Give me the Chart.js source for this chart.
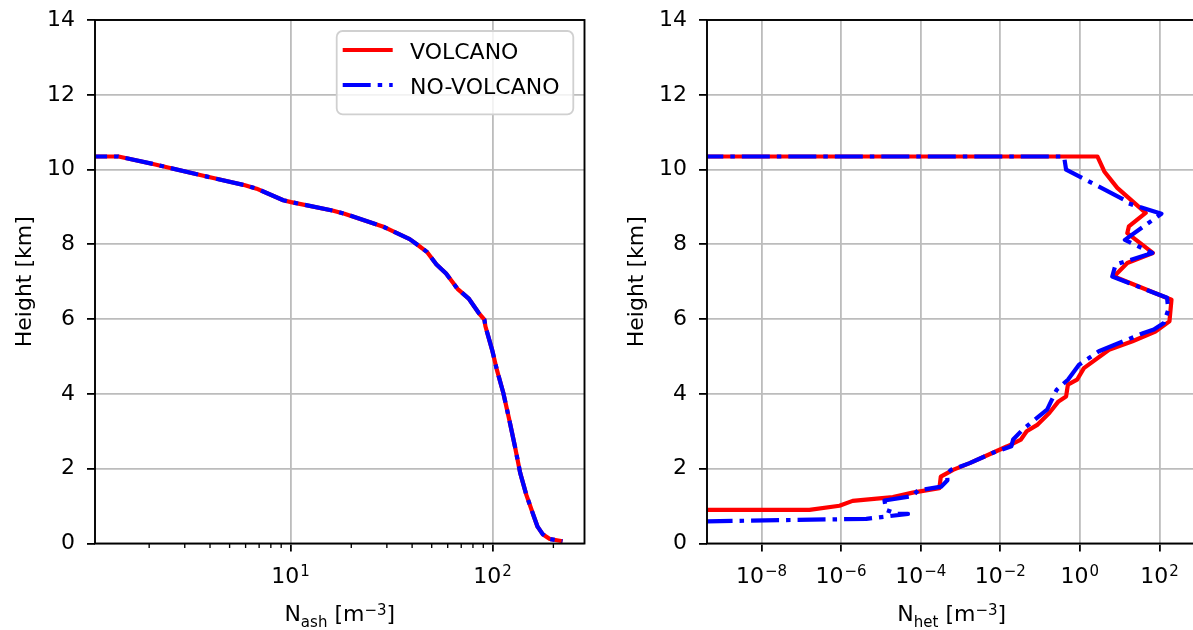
<!DOCTYPE html>
<html>
<head>
<meta charset="utf-8">
<script src="https://cdn.jsdelivr.net/npm/chart.js@4.4.1/dist/chart.umd.min.js"></script>
<style>
html, body { margin: 0; padding: 0; background: #fff; overflow: hidden; width: 1193px; height: 630px; }
canvas { position: absolute; top: 0; }
#chartAsh { left: 0; }
#chartHet { left: 612px; }
</style>
</head>
<body>
<canvas id="chartAsh" width="600" height="630"></canvas>
<canvas id="chartHet" width="600" height="630"></canvas>
<script>
// ---- data (height in km, concentration in m^-3) ----
const HEIGHT_MIN = 0, HEIGHT_MAX = 14, HEIGHT_STEP = 2;

const ashHeight = [10.35, 10.35, 10.15, 9.86, 9.58, 9.49, 9.18, 9.13, 8.90, 8.82,
                   8.48, 8.14, 7.99, 7.80, 7.46, 7.22, 6.81, 6.54, 6.17, 5.99,
                   5.81, 5.18, 4.65, 4.03, 3.31, 2.60, 1.89, 1.30, 0.73, 0.45,
                   0.25, 0.12, 0.06];
const ashVolcano = [0.9, 1.41, 2.09, 3.53, 5.96, 6.8, 9.22, 10.07, 16.3, 18.5,
                    28.6, 38.9, 42.5, 47.3, 52.8, 58.9, 67.1, 76.5, 85.3, 91.1,
                    92.2, 99.5, 105, 113, 121, 129, 137, 147, 160, 167,
                    177, 192, 222];
const ashNoVolcano = [0.9, 1.41, 2.09, 3.53, 5.96, 6.8, 9.22, 10.07, 16.3, 18.5,
                      28.6, 38.9, 42.5, 47.3, 52.8, 58.9, 67.1, 76.5, 85.3, 91.1,
                      92.2, 99.5, 105, 113, 121, 129, 137, 147, 160, 167,
                      177, 192, 222];
const ashRange = [1.079, 285.1];
const ashTicks = [10, 100];
const ashMinorTicks = [2, 3, 4, 5, 6, 7, 8, 9, 20, 30, 40, 50, 60, 70, 80, 90, 200];

const hetHeightVolcano = [10.35, 10.35, 9.95, 9.51, 8.84, 8.48, 8.30, 7.77, 7.50, 7.14,
                          6.52, 5.94, 5.67, 5.41, 5.18, 4.69, 4.38, 4.25, 3.93, 3.80,
                          3.49, 3.18, 3.00, 2.78, 2.60, 2.42, 2.15, 1.97, 1.79, 1.48,
                          1.36, 1.24, 1.14, 1.01, 0.90, 0.90];
const hetVolcano = [1e-12, 2.75, 4.1, 8.7, 45, 17, 15.5, 68, 15.5, 7.2,
                    200, 178, 79, 21, 5.4, 1.26, 0.85, 0.5, 0.45, 0.29,
                    0.17, 0.087, 0.046, 0.033, 0.015, 0.0063, 0.0017, 6.5e-4, 3.2e-4, 2.95e-4,
                    6.3e-5, 2.0e-5, 1.95e-6, 9.1e-7, 1.6e-7, 1e-12];
const hetHeightNoVolcano = [10.35, 10.35, 10.00, 9.19, 9.10, 8.82, 8.12, 7.77, 7.46, 7.14,
                            6.57, 6.25, 5.90, 5.72, 5.63, 5.14, 4.78, 4.38, 4.11, 3.58,
                            3.04, 2.78, 2.60, 2.42, 2.15, 1.97, 1.87, 1.69, 1.52, 1.42,
                            1.27, 1.15, 0.90, 0.79, 0.79, 0.70, 0.66, 0.59];
const hetNoVolcano = [1e-12, 0.4, 0.45, 12.9, 16, 112, 13.5, 66, 7.9, 6.5,
                      155, 166, 129, 72, 40, 3.0, 0.95, 0.5, 0.26, 0.15,
                      0.036, 0.021, 0.019, 0.0063, 0.0017, 5.8e-4, 4.6e-4, 4.7e-4, 3.3e-4, 8.5e-5,
                      6.3e-5, 1.23e-5, 1.35e-5, 2.6e-5, 4.8e-5, 9e-6, 4.3e-6, 3e-10];
const hetRange = [4.27e-10, 851];
const hetTicks = [1e-8, 1e-6, 1e-4, 1e-2, 1, 100];

const SERIES_NAMES = ['VOLCANO', 'NO-VOLCANO'];

// ---- styling ----
const FONT = "'DejaVu Sans', sans-serif";
const GRID = '#bcbcbc';
const RED = '#ff0000', BLUE = '#0000ff';
const LW = 4.2;
const DASHDOT = [28, 7, 4.5, 7];

function toPoints(xs, ys) {
    return xs.map((x, i) => ({ x: x, y: ys[i] }));
}

function drawPow(ctx, exp, cx, baseline) {
    const expTxt = exp < 0 ? '\u2212' + (-exp) : String(exp);
    ctx.font = '22px ' + FONT;
    const wb = ctx.measureText('10').width;
    ctx.font = '15px ' + FONT;
    const we = ctx.measureText(expTxt).width;
    const x0 = cx - (wb + we + 1) / 2;
    ctx.textAlign = 'left';
    ctx.font = '22px ' + FONT;
    ctx.fillText('10', x0, baseline);
    ctx.font = '15px ' + FONT;
    ctx.fillText(expTxt, x0 + wb + 1, baseline - 7.6);
}

// 组合文字: N_sub [m^-3]
function drawUnitTitle(ctx, sub, cx, baseline) {
    const parts = [
        { t: 'N', s: 22, dy: 0 },
        { t: sub, s: 15, dy: 5.7 },
        { t: ' [m', s: 22, dy: 0 },
        { t: '\u22123', s: 15, dy: -6.2 },
        { t: ']', s: 22, dy: 0 }
    ];
    let total = 0;
    parts.forEach(p => { ctx.font = p.s + 'px ' + FONT; p.w = ctx.measureText(p.t).width; total += p.w; });
    let x = cx - total / 2;
    ctx.textAlign = 'left';
    parts.forEach(p => {
        ctx.font = p.s + 'px ' + FONT;
        ctx.fillText(p.t, x, baseline + p.dy);
        x += p.w;
    });
}

const mplPlugin = {
    id: 'mpl',
    afterDraw(chart, args, opts) {
        const ctx = chart.ctx;
        const a = chart.chartArea;
        const xs = chart.scales.x;
        ctx.save();
        ctx.fillStyle = '#000';
        ctx.strokeStyle = '#000';

        // minor ticks
        if (opts.minor) {
            ctx.lineWidth = 1.35;
            opts.minor.forEach(v => {
                const px = xs.getPixelForValue(v);
                if (px < a.left || px > a.right) return;
                ctx.beginPath();
                ctx.moveTo(px, a.bottom);
                ctx.lineTo(px, a.bottom + 4.5);
                ctx.stroke();
            });
        }

        // axes box
        ctx.lineWidth = 1.9;
        ctx.strokeRect(a.left, a.top, a.right - a.left, a.bottom - a.top);

        // x tick labels 10^n
        ctx.textBaseline = 'alphabetic';
        xs.ticks.forEach(t => {
            drawPow(ctx, Math.round(Math.log10(t.value)), xs.getPixelForValue(t.value), a.bottom + 39.8);
        });

        // x title
        drawUnitTitle(ctx, opts.sub, (a.left + a.right) / 2, a.bottom + 77.5);

        // y title
        ctx.save();
        ctx.translate(30.7, (a.top + a.bottom) / 2);
        ctx.rotate(-Math.PI / 2);
        ctx.textAlign = 'center';
        ctx.font = '22px ' + FONT;
        ctx.fillText('Height [km]', 0, 0);
        ctx.restore();

        // legend
        if (opts.legend) {
            const w = 236.6, h = 83.3;
            const lx = a.right - 11.2 - w, ly = a.top + 11;
            ctx.beginPath();
            ctx.roundRect(lx, ly, w, h, 6);
            ctx.fillStyle = 'rgba(255,255,255,0.8)';
            ctx.fill();
            ctx.strokeStyle = '#d0d0d0';
            ctx.lineWidth = 1.8;
            ctx.stroke();
            chart.data.datasets.forEach((ds, i) => {
                const yy = ly + 19 + i * 35;
                ctx.beginPath();
                ctx.strokeStyle = ds.borderColor;
                ctx.lineWidth = LW;
                ctx.setLineDash(ds.borderDash || []);
                ctx.moveTo(lx + 6, yy);
                ctx.lineTo(lx + 56, yy);
                ctx.stroke();
                ctx.setLineDash([]);
                ctx.fillStyle = '#000';
                ctx.font = '22px ' + FONT;
                ctx.textAlign = 'left';
                ctx.fillText(ds.label, lx + 73.3, yy + 8.6);
            });
        }
        ctx.restore();
    }
};

function buildChart(id, cfg) {
    const canvas = document.getElementById(id);
    return new Chart(canvas, {
        type: 'scatter',
        data: {
            datasets: [{
                label: SERIES_NAMES[0],
                data: toPoints(cfg.volcanoX, cfg.volcanoH),
                borderColor: RED, borderWidth: LW,
                showLine: true, pointRadius: 0, pointHoverRadius: 0,
                borderJoinStyle: 'round', clip: 0, order: 1,
            }, {
                label: SERIES_NAMES[1],
                data: toPoints(cfg.noVolcanoX, cfg.noVolcanoH),
                borderColor: BLUE, borderWidth: LW, borderDash: DASHDOT,
                showLine: true, pointRadius: 0, pointHoverRadius: 0,
                borderJoinStyle: 'round', clip: 0, order: 0,
            }]
        },
        options: {
            responsive: false, animation: false, events: [],
            devicePixelRatio: 1,
            layout: { padding: { left: 0, top: 20, right: 15.5, bottom: 0 } },
            plugins: {
                legend: { display: false },
                tooltip: { enabled: false },
                mpl: { minor: cfg.minor, sub: cfg.sub, legend: cfg.legend }
            },
            scales: {
                x: {
                    type: 'logarithmic', min: cfg.range[0], max: cfg.range[1],
                    afterBuildTicks: s => { s.ticks = cfg.ticks.map(v => ({ value: v })); },
                    afterFit: s => { s.height = 86.5; s.paddingLeft = 0; s.paddingRight = 0; },
                    ticks: { display: false },
                    grid: { color: GRID, lineWidth: 1.8, tickColor: '#000', tickWidth: 1.8, tickLength: 8 },
                    border: { display: false }
                },
                y: {
                    type: 'linear', min: HEIGHT_MIN, max: HEIGHT_MAX,
                    afterFit: s => { s.width = 95; s.paddingTop = 0; s.paddingBottom = 0; },
                    ticks: { stepSize: HEIGHT_STEP, color: '#000', padding: 12, font: { family: FONT, size: 22 } },
                    grid: { color: GRID, lineWidth: 1.8, tickColor: '#000', tickWidth: 1.8, tickLength: 8 },
                    border: { display: false }
                }
            }
        },
        plugins: [mplPlugin]
    });
}

buildChart('chartAsh', {
    volcanoX: ashVolcano, volcanoH: ashHeight,
    noVolcanoX: ashNoVolcano, noVolcanoH: ashHeight,
    range: ashRange, ticks: ashTicks, minor: ashMinorTicks,
    sub: 'ash', legend: true
});
buildChart('chartHet', {
    volcanoX: hetVolcano, volcanoH: hetHeightVolcano,
    noVolcanoX: hetNoVolcano, noVolcanoH: hetHeightNoVolcano,
    range: hetRange, ticks: hetTicks, minor: null,
    sub: 'het', legend: false
});
</script>
</body>
</html>
